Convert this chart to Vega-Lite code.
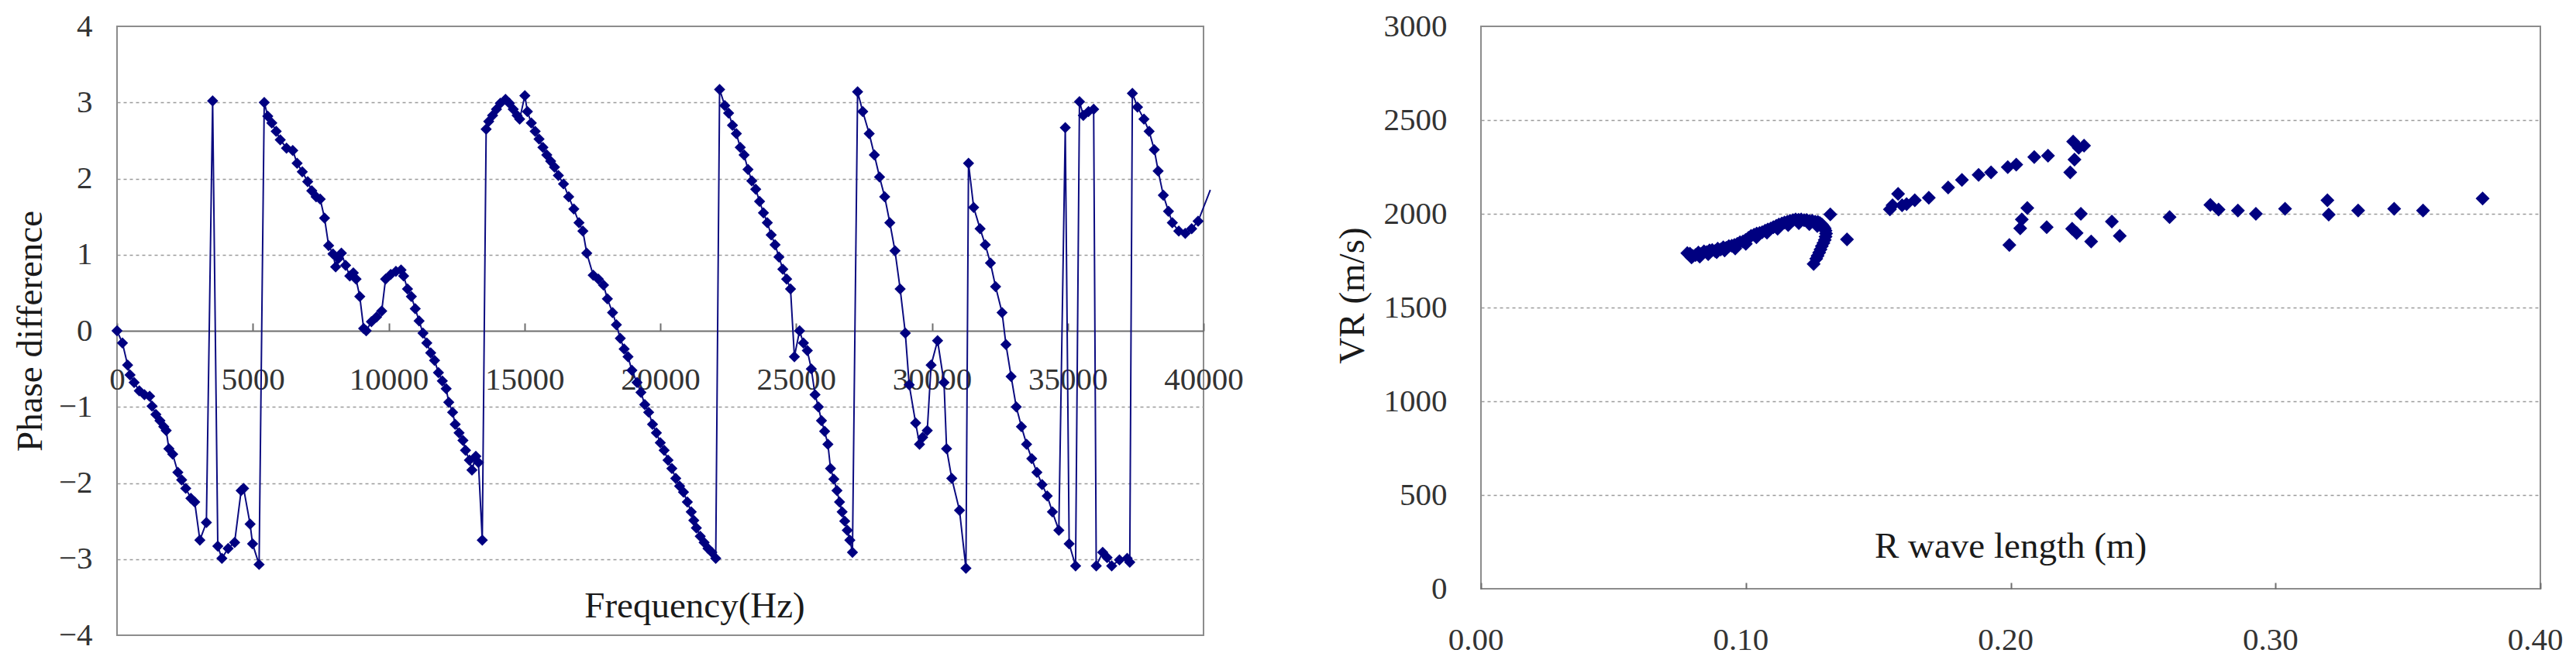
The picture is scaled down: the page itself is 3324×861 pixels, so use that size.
{
  "$schema": "https://vega.github.io/schema/vega-lite/v6.json",
  "background": "white",
  "padding": {"left": 14, "top": 12, "right": 0, "bottom": 0},
  "autosize": {"type": "pad"},
  "spacing": 358,
  "bounds": "flush",
  "config": {
    "view": {"stroke": "#8c8c8c", "strokeWidth": 2},
    "font": "Liberation Serif",
    "axis": {"labelFont": "Liberation Serif", "titleFont": "Liberation Serif", "labelColor": "#333333", "titleColor": "#1a1a1a", "titleFontWeight": "normal", "labelFontSize": 41, "titleFontSize": 47, "labelFlush": false, "labelOverlap": false}
  },
  "datasets": {
    "phase": [
      {"f":0,"p":0},{"f":200,"p":-0.16},{"f":390,"p":-0.45},{"f":480,"p":-0.58},{"f":630,"p":-0.68},{"f":820,"p":-0.79},{"f":1010,"p":-0.84},{"f":1200,"p":-0.86},{"f":1290,"p":-0.99},{"f":1430,"p":-1.10},{"f":1580,"p":-1.18},{"f":1720,"p":-1.26},{"f":1810,"p":-1.31},{"f":1910,"p":-1.55},{"f":2050,"p":-1.62},{"f":2240,"p":-1.86},{"f":2380,"p":-1.96},{"f":2530,"p":-2.07},{"f":2720,"p":-2.20},{"f":2860,"p":-2.25},{"f":3050,"p":-2.75},{"f":3290,"p":-2.52},{"f":3520,"p":3.02},{"f":3710,"p":-2.83},{"f":3860,"p":-2.99},{"f":4090,"p":-2.86},{"f":4330,"p":-2.78},{"f":4570,"p":-2.10},{"f":4660,"p":-2.07},{"f":4900,"p":-2.54},{"f":4990,"p":-2.80},{"f":5230,"p":-3.07},{"f":5420,"p":3.00},{"f":5550,"p":2.82},{"f":5700,"p":2.73},{"f":5860,"p":2.62},{"f":6010,"p":2.51},{"f":6240,"p":2.40},{"f":6470,"p":2.37},{"f":6630,"p":2.20},{"f":6820,"p":2.09},{"f":7020,"p":1.96},{"f":7170,"p":1.84},{"f":7330,"p":1.76},{"f":7480,"p":1.73},{"f":7640,"p":1.48},{"f":7790,"p":1.12},{"f":7950,"p":1.01},{"f":8050,"p":0.84},{"f":8150,"p":0.95},{"f":8260,"p":1.02},{"f":8415,"p":0.86},{"f":8570,"p":0.72},{"f":8700,"p":0.76},{"f":8800,"p":0.68},{"f":8937,"p":0.45},{"f":9080,"p":0.03},{"f":9175,"p":0.0},{"f":9365,"p":0.12},{"f":9555,"p":0.18},{"f":9745,"p":0.26},{"f":9887,"p":0.68},{"f":10077,"p":0.74},{"f":10267,"p":0.78},{"f":10456,"p":0.80},{"f":10551,"p":0.72},{"f":10694,"p":0.55},{"f":10836,"p":0.45},{"f":10979,"p":0.29},{"f":11121,"p":0.13},{"f":11264,"p":-0.03},{"f":11406,"p":-0.16},{"f":11548,"p":-0.29},{"f":11691,"p":-0.39},{"f":11833,"p":-0.55},{"f":11976,"p":-0.66},{"f":12118,"p":-0.76},{"f":12213,"p":-0.94},{"f":12355,"p":-1.07},{"f":12450,"p":-1.23},{"f":12593,"p":-1.34},{"f":12735,"p":-1.44},{"f":12830,"p":-1.57},{"f":12972,"p":-1.70},{"f":13067,"p":-1.83},{"f":13210,"p":-1.65},{"f":13305,"p":-1.73},{"f":13447,"p":-2.75},{"f":13590,"p":2.65},{"f":13685,"p":2.75},{"f":13827,"p":2.83},{"f":13970,"p":2.91},{"f":14112,"p":2.99},{"f":14302,"p":3.04},{"f":14444,"p":2.99},{"f":14587,"p":2.91},{"f":14729,"p":2.83},{"f":14824,"p":2.78},{"f":15014,"p":3.09},{"f":15109,"p":2.88},{"f":15252,"p":2.73},{"f":15394,"p":2.62},{"f":15537,"p":2.52},{"f":15679,"p":2.41},{"f":15822,"p":2.31},{"f":15964,"p":2.23},{"f":16106,"p":2.15},{"f":16249,"p":2.04},{"f":16438,"p":1.93},{"f":16628,"p":1.76},{"f":16818,"p":1.60},{"f":17008,"p":1.42},{"f":17151,"p":1.31},{"f":17293,"p":1.02},{"f":17531,"p":0.73},{"f":17720,"p":0.68},{"f":17910,"p":0.60},{"f":18053,"p":0.42},{"f":18243,"p":0.24},{"f":18385,"p":0.08},{"f":18528,"p":-0.10},{"f":18670,"p":-0.24},{"f":18813,"p":-0.34},{"f":18955,"p":-0.52},{"f":19145,"p":-0.68},{"f":19288,"p":-0.81},{"f":19430,"p":-0.97},{"f":19573,"p":-1.07},{"f":19715,"p":-1.23},{"f":19857,"p":-1.34},{"f":20000,"p":-1.47},{"f":20142,"p":-1.57},{"f":20285,"p":-1.70},{"f":20427,"p":-1.81},{"f":20570,"p":-1.94},{"f":20712,"p":-2.04},{"f":20855,"p":-2.12},{"f":20997,"p":-2.25},{"f":21140,"p":-2.38},{"f":21234,"p":-2.49},{"f":21329,"p":-2.59},{"f":21472,"p":-2.70},{"f":21614,"p":-2.78},{"f":21757,"p":-2.86},{"f":21899,"p":-2.91},{"f":22042,"p":-2.99},{"f":22184,"p":3.17},{"f":22374,"p":2.96},{"f":22516,"p":2.86},{"f":22659,"p":2.70},{"f":22801,"p":2.59},{"f":22944,"p":2.41},{"f":23086,"p":2.31},{"f":23229,"p":2.12},{"f":23371,"p":1.97},{"f":23514,"p":1.86},{"f":23656,"p":1.70},{"f":23799,"p":1.55},{"f":23941,"p":1.42},{"f":24084,"p":1.26},{"f":24226,"p":1.13},{"f":24368,"p":0.97},{"f":24511,"p":0.81},{"f":24653,"p":0.68},{"f":24795,"p":0.55},{"f":24938,"p":-0.34},{"f":25128,"p":0.0},{"f":25270,"p":-0.16},{"f":25413,"p":-0.26},{"f":25560,"p":-0.50},{"f":25698,"p":-0.84},{"f":25820,"p":-1.00},{"f":25935,"p":-1.18},{"f":26050,"p":-1.32},{"f":26172,"p":-1.49},{"f":26268,"p":-1.81},{"f":26390,"p":-1.95},{"f":26505,"p":-2.10},{"f":26600,"p":-2.25},{"f":26695,"p":-2.38},{"f":26790,"p":-2.50},{"f":26885,"p":-2.62},{"f":26980,"p":-2.75},{"f":27075,"p":-2.91},{"f":27265,"p":3.14},{"f":27454,"p":2.88},{"f":27692,"p":2.59},{"f":27882,"p":2.31},{"f":28072,"p":2.02},{"f":28262,"p":1.76},{"f":28451,"p":1.42},{"f":28641,"p":1.05},{"f":28831,"p":0.55},{"f":29021,"p":-0.03},{"f":29164,"p":-0.71},{"f":29401,"p":-1.21},{"f":29544,"p":-1.49},{"f":29660,"p":-1.40},{"f":29829,"p":-1.31},{"f":29971,"p":-0.45},{"f":30209,"p":-0.13},{"f":30446,"p":-0.68},{"f":30541,"p":-1.55},{"f":30731,"p":-1.94},{"f":31016,"p":-2.36},{"f":31253,"p":-3.12},{"f":31348,"p":2.20},{"f":31538,"p":1.62},{"f":31775,"p":1.34},{"f":31965,"p":1.13},{"f":32155,"p":0.89},{"f":32345,"p":0.58},{"f":32583,"p":0.24},{"f":32726,"p":-0.18},{"f":32916,"p":-0.60},{"f":33106,"p":-1.00},{"f":33296,"p":-1.26},{"f":33486,"p":-1.49},{"f":33676,"p":-1.68},{"f":33866,"p":-1.86},{"f":34056,"p":-2.02},{"f":34246,"p":-2.17},{"f":34436,"p":-2.38},{"f":34673,"p":-2.62},{"f":34910,"p":2.67},{"f":35053,"p":-2.80},{"f":35290,"p":-3.09},{"f":35433,"p":3.01},{"f":35575,"p":2.83},{"f":35765,"p":2.88},{"f":35955,"p":2.91},{"f":36050,"p":-3.09},{"f":36288,"p":-2.91},{"f":36450,"p":-2.98},{"f":36620,"p":-3.09},{"f":36905,"p":-3.01},{"f":37190,"p":-2.99},{"f":37285,"p":-3.04},{"f":37380,"p":3.12},{"f":37570,"p":2.94},{"f":37807,"p":2.78},{"f":37997,"p":2.62},{"f":38187,"p":2.38},{"f":38330,"p":2.10},{"f":38520,"p":1.78},{"f":38710,"p":1.57},{"f":38852,"p":1.42},{"f":39089,"p":1.31},{"f":39327,"p":1.28},{"f":39564,"p":1.34},{"f":39801,"p":1.44},{"f":40250,"p":1.85}
    ],
    "vr": [
      {"l":0.0779,"v":1790},{"l":0.0789,"v":1787},{"l":0.0800,"v":1775},{"l":0.0810,"v":1780},{"l":0.0821,"v":1793},{"l":0.0831,"v":1785},{"l":0.0842,"v":1800},{"l":0.0852,"v":1795},{"l":0.0863,"v":1805},{"l":0.0873,"v":1807},{"l":0.0884,"v":1802},{"l":0.0894,"v":1814},{"l":0.0905,"v":1810},{"l":0.0915,"v":1821},{"l":0.0926,"v":1818},{"l":0.0936,"v":1827},{"l":0.0947,"v":1830},{"l":0.0957,"v":1834},{"l":0.0968,"v":1840},{"l":0.0978,"v":1848},{"l":0.0989,"v":1852},{"l":0.0999,"v":1861},{"l":0.1010,"v":1872},{"l":0.1020,"v":1882},{"l":0.1031,"v":1888},{"l":0.1041,"v":1895},{"l":0.1052,"v":1898},{"l":0.1062,"v":1902},{"l":0.1073,"v":1910},{"l":0.1083,"v":1916},{"l":0.1094,"v":1922},{"l":0.1104,"v":1929},{"l":0.1115,"v":1936},{"l":0.1125,"v":1943},{"l":0.1136,"v":1948},{"l":0.1146,"v":1954},{"l":0.1157,"v":1958},{"l":0.1167,"v":1963},{"l":0.1178,"v":1966},{"l":0.1188,"v":1970},{"l":0.1199,"v":1968},{"l":0.1209,"v":1970},{"l":0.1220,"v":1966},{"l":0.1230,"v":1967},{"l":0.1241,"v":1962},{"l":0.1251,"v":1963},{"l":0.1262,"v":1958},{"l":0.1272,"v":1957},{"l":0.1280,"v":1950},{"l":0.1287,"v":1943},{"l":0.1293,"v":1933},{"l":0.1298,"v":1923},{"l":0.1301,"v":1910},{"l":0.1303,"v":1895},{"l":0.1301,"v":1878},{"l":0.1298,"v":1861},{"l":0.1293,"v":1844},{"l":0.1287,"v":1827},{"l":0.1282,"v":1810},{"l":0.1277,"v":1793},{"l":0.1271,"v":1776},{"l":0.1266,"v":1760},{"l":0.1256,"v":1732},
      {"l":0.0795,"v":1768},{"l":0.0826,"v":1772},{"l":0.0858,"v":1785},{"l":0.0890,"v":1795},{"l":0.0920,"v":1805},{"l":0.0960,"v":1815},{"l":0.1000,"v":1840},{"l":0.1040,"v":1875},{"l":0.1080,"v":1900},{"l":0.1120,"v":1920},{"l":0.1160,"v":1940},{"l":0.1200,"v":1950},{"l":0.1240,"v":1945},{"l":0.1270,"v":1935},
      {"l":0.1319,"v":1997},{"l":0.1382,"v":1864},
      {"l":0.1544,"v":2024},{"l":0.1554,"v":2045},{"l":0.1575,"v":2106},{"l":0.1590,"v":2045},{"l":0.1607,"v":2052},{"l":0.1638,"v":2072},{"l":0.1691,"v":2086},{"l":0.1764,"v":2140},{"l":0.1816,"v":2181},{"l":0.1879,"v":2208},{"l":0.1926,"v":2221},{"l":0.1989,"v":2249},{"l":0.2021,"v":2262},{"l":0.2089,"v":2303},{"l":0.2141,"v":2310},{"l":0.2225,"v":2221},{"l":0.2241,"v":2289},{"l":0.2236,"v":2385},{"l":0.2257,"v":2352},{"l":0.2277,"v":2364},
      {"l":0.1995,"v":1834},{"l":0.2036,"v":1923},{"l":0.2042,"v":1970},{"l":0.2063,"v":2031},{"l":0.2136,"v":1929},{"l":0.2232,"v":1920},{"l":0.2249,"v":1898},{"l":0.2265,"v":2000},{"l":0.2304,"v":1852},{"l":0.2382,"v":1959},{"l":0.2412,"v":1882},{"l":0.2600,"v":1982},{"l":0.2754,"v":2048},{"l":0.2785,"v":2023},{"l":0.2858,"v":2018},{"l":0.2926,"v":2000},{"l":0.3036,"v":2027},{"l":0.3196,"v":2072},{"l":0.3201,"v":1996},{"l":0.3312,"v":2018},{"l":0.3448,"v":2027},{"l":0.3557,"v":2018},{"l":0.3782,"v":2082}
    ]
  },
  "hconcat": [
    {
      "width": 1402,
      "height": 786,
      "layer": [
        {
          "data": {"name": "phase"},
          "mark": {"type": "line", "color": "#0b0b80", "strokeWidth": 2},
          "encoding": {
            "x": {"field": "f", "type": "quantitative", "scale": {"domain": [0, 40000], "nice": false},
              "axis": {"title": "Frequency(Hz)", "offset": -393, "values": [0,5000,10000,15000,20000,25000,30000,35000,40000], "format": "d", "grid": false, "domainColor": "#6e6e6e", "domainWidth": 2, "ticks": true, "tickSize": -10, "tickColor": "#6e6e6e", "tickWidth": 2, "labelBaseline": "middle", "labelPadding": 73, "titleX": 745, "titleY": 355, "titleBaseline": "middle", "titleAnchor": "middle", "titleAlign": "center"}},
            "y": {"field": "p", "type": "quantitative", "scale": {"domain": [-4, 4], "nice": false},
              "axis": {"title": "Phase difference", "values": [-4,-3,-2,-1,0,1,2,3,4], "format": "d", "grid": true, "gridColor": "#9a9a9a", "gridDash": [4, 4], "gridWidth": 1.5, "gridOpacity": {"condition": {"test": "datum.value == 0 || datum.value == 4 || datum.value == -4", "value": 0}, "value": 1}, "domain": false, "ticks": false, "labelPadding": 32, "titlePadding": 12}}
          }
        },
        {
          "data": {"name": "phase"},
          "transform": [{"filter": "datum.f <= 40000"}],
          "mark": {"type": "point", "shape": "diamond", "filled": true, "color": "#000080", "size": 210, "opacity": 1},
          "encoding": {
            "x": {"field": "f", "type": "quantitative"},
            "y": {"field": "p", "type": "quantitative"}
          }
        }
      ]
    },
    {
      "width": 1367,
      "height": 726,
      "data": {"name": "vr"},
      "mark": {"type": "point", "shape": "diamond", "filled": true, "color": "#000080", "size": 324, "opacity": 1},
      "encoding": {
        "x": {"field": "l", "type": "quantitative", "scale": {"domain": [0, 0.4], "nice": false},
          "axis": {"title": "R wave length (m)", "values": [0, 0.1, 0.2, 0.3, 0.4], "format": ".2f", "grid": false, "domain": false, "ticks": true, "tickSize": -8, "tickColor": "#6e6e6e", "tickWidth": 2, "labelBaseline": "middle", "labelPadding": 74, "labelOffset": -7, "titleX": 683, "titleY": -55, "titleBaseline": "middle", "titleAlign": "center"}},
        "y": {"field": "v", "type": "quantitative", "scale": {"domain": [0, 3000], "nice": false},
          "axis": {"title": "VR (m/s)", "values": [0, 500, 1000, 1500, 2000, 2500, 3000], "format": "d", "grid": true, "gridColor": "#9a9a9a", "gridDash": [4, 4], "gridWidth": 1.5, "gridOpacity": {"condition": {"test": "datum.value == 0 || datum.value == 3000", "value": 0}, "value": 1}, "domain": false, "ticks": false, "labelPadding": 44, "titlePadding": 16, "titleY": 347}}
      }
    }
  ]
}
